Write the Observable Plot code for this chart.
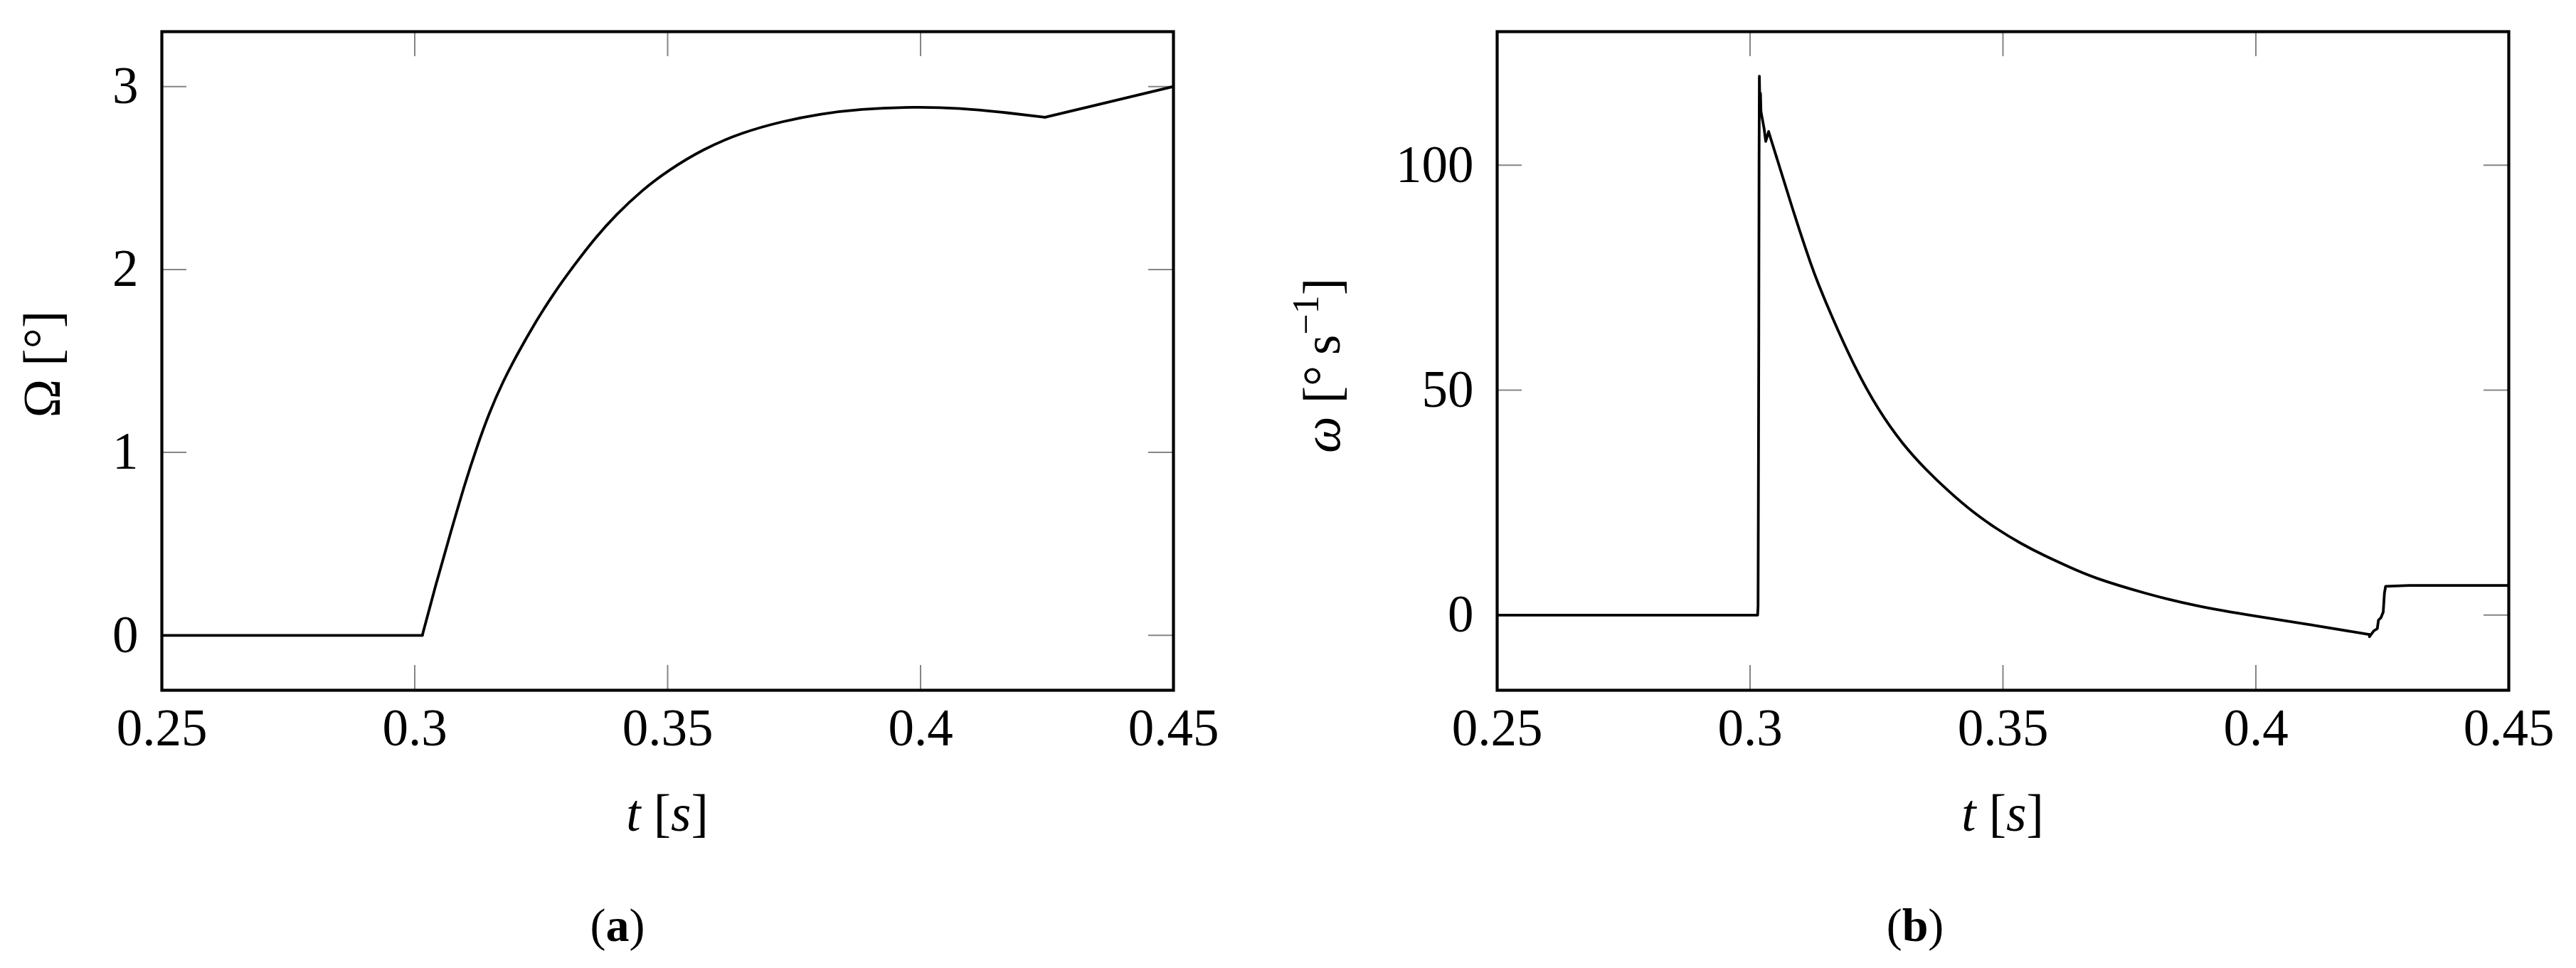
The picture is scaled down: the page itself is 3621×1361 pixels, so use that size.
<!DOCTYPE html>
<html>
<head>
<meta charset="utf-8">
<script src="https://cdn.jsdelivr.net/npm/d3@7"></script>
<script src="https://cdn.jsdelivr.net/npm/@observablehq/plot@0.6"></script>
<style>
  html, body { margin: 0; padding: 0; background: #fff; }
  #root { position: relative; width: 3621px; height: 1361px; background: #fff; overflow: hidden; }
  .panel { position: absolute; top: 0; }
</style>
</head>
<body>
<div id="root">
  <div class="panel" id="pa" style="left:0px"></div>
  <div class="panel" id="pb" style="left:1750px"></div>
</div>
<script>
// ---------- data ----------
const xTicks = [0.25, 0.3, 0.35, 0.4, 0.45];
const xTickLabels = ["0.25", "0.3", "0.35", "0.4", "0.45"];
const angleTicks = [0, 1, 2, 3];
const rateTicks = [0, 50, 100];

// (a) Ω [°] vs t [s]
const angleT = [0.25, 0.3015, 0.30417, 0.30706, 0.30996, 0.31231, 0.31466, 0.31747, 0.32028, 0.32403,
                0.32732, 0.33154, 0.33575, 0.33973, 0.345, 0.35, 0.3571, 0.3646, 0.3728, 0.3803,
                0.3878, 0.3989, 0.408, 0.4156, 0.4246, 0.45];
const angleV = [0, 0, 0.28, 0.558, 0.835, 1.032, 1.213, 1.39, 1.538, 1.72,
                1.863, 2.025, 2.175, 2.298, 2.435, 2.54, 2.66, 2.748, 2.811, 2.851,
                2.877, 2.89, 2.882, 2.862, 2.832, 3.0];

// (b) ω [° s^-1] vs t [s]
const rateT = [0.25, 0.3015, 0.30158, 0.30163, 0.30172, 0.30178, 0.30184, 0.30198, 0.30206, 0.30215,
               0.30231, 0.30277, 0.3031, 0.30367, 0.30404, 0.30521, 0.30897, 0.31226, 0.31343, 0.31601,
               0.3207, 0.32539, 0.33007, 0.33477, 0.33945, 0.34414, 0.34883, 0.35352, 0.3582, 0.3629,
               0.3676, 0.3784, 0.3877, 0.4001, 0.4112, 0.42243, 0.42247, 0.42331, 0.42401, 0.42424,
               0.42471, 0.42518, 0.42542, 0.42565, 0.43034, 0.45];
const rateV = [0, 0, 2, 20, 60, 100, 119.8, 111, 116, 112,
               111, 108.2, 105.3, 107.5, 106.1, 101.9, 88.2, 77.2, 73.8, 66.7,
               55.0, 45.5, 38.1, 32.3, 27.3, 22.8, 19.1, 15.9, 13.2, 10.8,
               8.4, 4.7, 2.1, -0.3, -2.2, -4.3, -4.8, -3.5, -3.0, -1.1,
               -0.6, 0.7, 4.9, 6.4, 6.6, 6.6];

// ---------- layout ----------
const FONT = '"Liberation Serif", "Times New Roman", serif';
const FS = 73;
const H = 1361, MT = 44, MB = 391;
const PLOT_H = H - MT - MB;   // 926
const TICK = 35;
const TICK_COLOR = "#858585";

function makePanel(opts) {
  const {width, marginLeft, marginRight, yDomain, yTicks, data, smoothFrom, smoothTo} = opts;
  const plotW = width - marginLeft - marginRight;
  const smooth = data.filter(d => d.t >= smoothFrom && d.t <= smoothTo);
  const before = data.filter(d => d.t <= smoothFrom);
  const after = data.filter(d => d.t >= smoothTo);
  const lineStyle = {x: "t", y: "v", stroke: "black", strokeWidth: 3.8, strokeLinejoin: "round", strokeLinecap: "round", clip: true};
  return Plot.plot({
    width, height: H,
    marginLeft, marginRight, marginTop: MT, marginBottom: MB,
    style: {fontFamily: FONT, fontSize: FS + "px", background: "white", color: "black"},
    x: {domain: [0.25, 0.45]},
    y: {domain: yDomain},
    marks: [
      // inward tick marks on all four sides
      Plot.ruleX(xTicks, {x: d => d, stroke: TICK_COLOR, strokeWidth: 2, insetTop: PLOT_H - TICK}),
      Plot.ruleX(xTicks, {x: d => d, stroke: TICK_COLOR, strokeWidth: 2, insetBottom: PLOT_H - TICK}),
      Plot.ruleY(yTicks, {y: d => d, stroke: TICK_COLOR, strokeWidth: 2, insetRight: plotW - TICK}),
      Plot.ruleY(yTicks, {y: d => d, stroke: TICK_COLOR, strokeWidth: 2, insetLeft: plotW - TICK}),
      Plot.line(before, lineStyle),
      Plot.line(smooth, {...lineStyle, curve: "basis"}),
      Plot.line(after, lineStyle),
      Plot.frame({stroke: "black", strokeWidth: 4.2}),
      Plot.axisX(xTicks, {anchor: "bottom", tickSize: 0, tickPadding: 26, fontSize: FS,
        tickFormat: d => xTickLabels[xTicks.indexOf(d)], label: null}),
      Plot.axisY(yTicks, {anchor: "left", tickSize: 0, tickPadding: 33, fontSize: FS,
        tickFormat: d => String(d), label: null})
    ]
  });
}

function addText(sel, parts) {
  parts.forEach(p => {
    const ts = sel.append("tspan").text(p.text);
    if (p.italic) ts.attr("font-style", "italic");
    if (p.bold) ts.attr("font-weight", "bold");
    if (p.size) ts.attr("font-size", p.size);
    if (p.dy) ts.attr("dy", p.dy);
  });
}

function textEl(s, x, y, size, transform) {
  const t = s.append("text").attr("text-anchor", "middle")
    .attr("font-family", FONT).attr("font-size", size).attr("fill", "black");
  if (transform) t.attr("transform", transform); else t.attr("x", x).attr("y", y);
  return t;
}

// ---------- panel (a) ----------
const dataA = angleT.map((t, i) => ({t, v: angleV[i]}));
const wA = 1750, mlA = 227, mrA = 101;
const svgA = makePanel({width: wA, marginLeft: mlA, marginRight: mrA, yDomain: [-0.3, 3.3],
  yTicks: angleTicks, data: dataA, smoothFrom: 0.3015, smoothTo: 0.4246});
document.getElementById("pa").appendChild(svgA);
{
  const s = d3.select(svgA);
  const cx = mlA + (wA - mlA - mrA) / 2;
  addText(textEl(s, cx, 1168, FS), [{text: "t", italic: true}, {text: " ["}, {text: "s", italic: true}, {text: "]"}]);
  addText(textEl(s, 0, 0, FS, "translate(84,512) rotate(-90)"), [{text: "Ω [°]"}]);
  addText(textEl(s, 868, 1323, 66), [{text: "("}, {text: "a", bold: true}, {text: ")"}]);
}

// ---------- panel (b) ----------
const offB = 1750;
const dataB = rateT.map((t, i) => ({t, v: rateV[i]}));
const wB = 3621 - offB, mlB = 2104 - offB, mrB = 95;
const svgB = makePanel({width: wB, marginLeft: mlB, marginRight: mrB, yDomain: [-16.7, 129.7],
  yTicks: rateTicks, data: dataB, smoothFrom: 0.30521, smoothTo: 0.42243});
document.getElementById("pb").appendChild(svgB);
{
  const s = d3.select(svgB);
  const cx = mlB + (wB - mlB - mrB) / 2;
  addText(textEl(s, cx, 1168, FS), [{text: "t", italic: true}, {text: " ["}, {text: "s", italic: true}, {text: "]"}]);
  addText(textEl(s, 0, 0, FS, `translate(${1883 - offB},514) rotate(-90)`),
    [{text: "ω", italic: true}, {text: " [°\u2009s"}, {text: "−1", size: 52, dy: -30}, {text: "]", dy: 30}]);
  addText(textEl(s, 2692 - offB, 1323, 66), [{text: "("}, {text: "b", bold: true}, {text: ")"}]);
}
</script>
</body>
</html>
